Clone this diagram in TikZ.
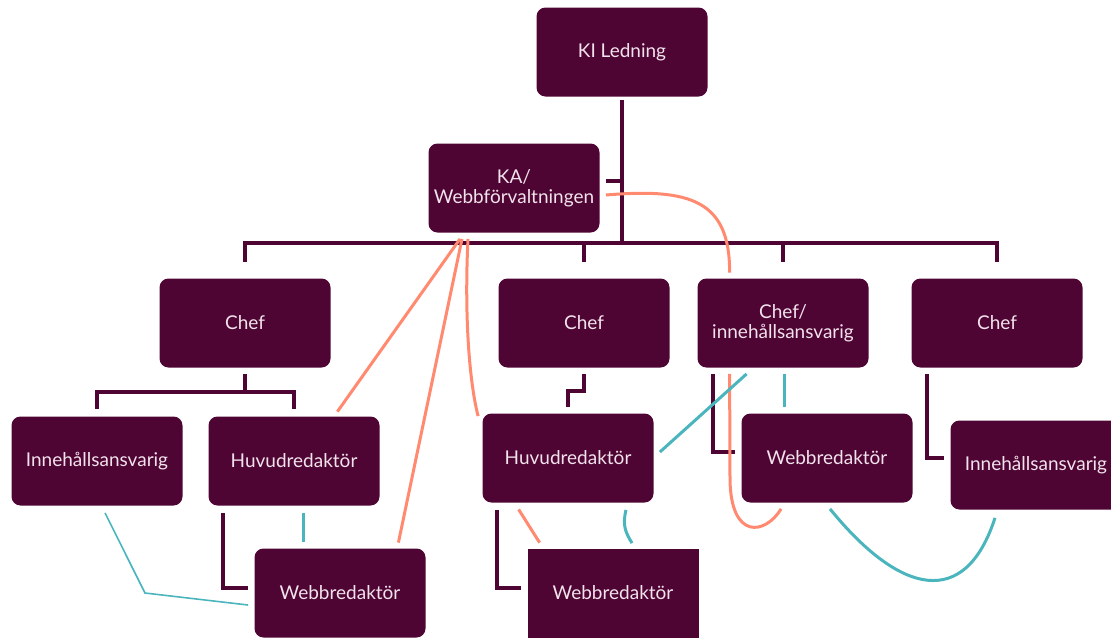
\documentclass[tikz,border=0pt]{standalone}
\usepackage{fontspec}
\setmainfont{Lato}
\usetikzlibrary{calc}
\definecolor{plum}{HTML}{4F0533}
\definecolor{salmon}{HTML}{FF8A70}
\definecolor{lagoon}{HTML}{4BB5BE}
\definecolor{pale}{HTML}{F2E2EC}
\begin{document}
\begin{tikzpicture}[x=0.5pt,y=-0.5pt]
    \tikzstyle{box}=[fill=plum,rounded corners=4.5pt,minimum width=85.5pt,minimum height=44.5pt,inner sep=0pt,text=pale,align=center,font=\fontsize{9.5}{10}\selectfont]
    \tikzstyle{sharpbox}=[box,sharp corners]
    \tikzstyle{tie}=[draw=plum,line width=2pt]
    \tikzstyle{hot}=[draw=salmon,line width=1.5pt]
    \tikzstyle{cool}=[draw=lagoon,line width=1.5pt]
    \useasboundingbox (0,0) rectangle (1111,638);
    \clip (0,0) rectangle (1111,638);
    % boxes
    \node[box] (ki) at (622,52) {KI Ledning};
    \node[box] (ka) at (514,188) {KA/\\Webbförvaltningen};
    \node[box] (chefa) at (245,323) {Chef};
    \node[box] (chefb) at (584,323) {Chef};
    \node[box] (chefc) at (783,323) {Chef/\\innehållsansvarig};
    \node[box] (chefd) at (997,323) {Chef};
    \node[box] (innea) at (97,461) {Innehållsansvarig};
    \node[box] (huva) at (294,461) {Huvudredaktör};
    \node[box] (webba) at (340,593) {Webbredaktör};
    \node[box] (huvb) at (568,458) {Huvudredaktör};
    \node[sharpbox] (webbb) at (613,593) {Webbredaktör};
    \node[box] (webbc) at (827,458) {Webbredaktör};
    \node[box] (inneb) at (1036,465) {Innehållsansvarig};
    % line of command
    \coordinate (bus) at (622,243);
    \draw[tie] ($(ki.south)+(0,3)$) -- (bus);
    \draw[tie] ($(ka.east)+(6,-7)$) -- ++(16,0);
    \draw[tie] ($(chefa.north)+(0,-16)$) |- (bus) -| ($(chefd.north)+(0,-16)$);
    \foreach \c in {chefb,chefc}
      \draw[tie] (\c.north |- bus) -- ($(\c.north)+(0,-16)$);
    \draw[tie] ($(chefa.south)+(0,6)$) -- ++(0,18) coordinate (fork);
    \draw[tie] ($(innea.north)+(0,-7)$) |- (fork) -| ($(huva.north)+(0,-7)$);
    \draw[tie] ($(chefb.south)+(0,6)$) -- ++(0,17) -| ($(huvb.north)+(0,-6)$);
    \draw[tie] ($(chefc.south west)+(16,6)$) |- ($(webbc.west)+(-6,-6)$);
    \draw[tie] ($(chefd.south west)+(16,6)$) |- ($(inneb.west)+(-6,-7)$);
    \draw[tie] ($(huva.south west)+(15,7)$) |- ($(webba.west)+(-6,-5)$);
    \draw[tie] ($(huvb.south west)+(15,7)$) |- ($(webbb.west)+(-6,-5)$);
    % salmon links
    \draw[hot] ($(ka.east)+(6,7)$) .. controls (690,188) and (730,200) .. ($(chefc.north west)+(32.5,-5.5)$);
    \draw[hot] ($(ka.south)+(-54,6)$) -- ($(huva.north east)+(-42.5,-4.5)$);
    \draw[hot] ($(ka.south)+(-52,6)$) -- ($(webba.north east)+(-27.5,-5.5)$);
    \draw[hot] ($(ka.south)+(-46,6)$) .. controls (464,320) and (470,385) .. ($(huvb.north west)+(-4,3)$);
    \draw[hot] ($(huvb.south west)+(36.5,6.5)$) -- ($(webbb.north west)+(12.5,-5.5)$);
    \draw[hot] ($(chefc.south west)+(32.5,6)$) -- (730,480) .. controls (731,540) and (765,535) .. ($(webbc.south west)+(40,6)$);
    % teal links
    \draw[cool,line width=0.8pt] ($(innea.south)+(8,7)$) -- (145,593) -- ($(webba.west)+(-6,12)$);
    \draw[cool] ($(huva.south)+(9,7)$) -- ($(huva.south |- webba.north)+(9,-6)$);
    \draw[cool] ($(huvb.east)+(6,-6)$) -- ($(chefc.south west)+(49.5,6)$);
    \draw[cool] ($(chefc.south)+(1,6)$) -- ($(chefc.south |- webbc.north)+(1,-6)$);
    \draw[cool] ($(huvb.south)+(58,7)$) .. controls +(-4,16) and +(-6,-10) .. ($(webbb.north)+(19,-5)$);
    \draw[cool] ($(webbc.south)+(3,6)$) .. controls (900,595) and (965,610) .. ($(inneb.south)+(-41,8)$);
\end{tikzpicture}
\end{document}
